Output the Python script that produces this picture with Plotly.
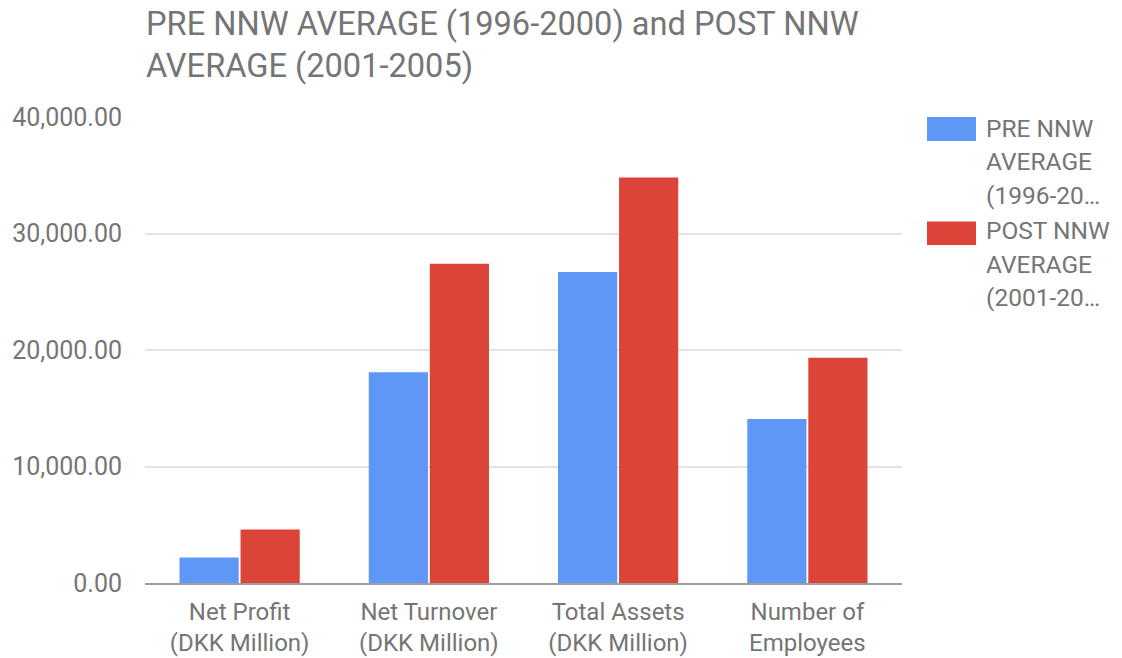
import plotly.graph_objects as go

categories = ["Net Profit<br>(DKK Million)", "Net Turnover<br>(DKK Million)",
              "Total Assets<br>(DKK Million)", "Number of<br>Employees"]
pre_values = [2180, 18100, 26700, 14070]
post_values = [4600, 27400, 34800, 19340]
series_names = ["PRE NNW AVERAGE (1996-2000)", "POST NNW AVERAGE (2001-2005)"]
legend_lines = [["PRE NNW", "AVERAGE", "(1996-20…"], ["POST NNW", "AVERAGE", "(2001-20…"]]
title_text = "PRE NNW AVERAGE (1996-2000) and POST NNW<br>AVERAGE (2001-2005)"
y_ticks = [0, 10000, 20000, 30000, 40000]

BLUE = "#5e97f6"
RED = "#db4437"
GREY = "#757575"
FONT = "Roboto"

fig = go.Figure()
fig.add_trace(go.Bar(x=categories, y=pre_values, name=series_names[0],
                     marker=dict(color=BLUE, line=dict(width=0)), showlegend=False))
fig.add_trace(go.Bar(x=categories, y=post_values, name=series_names[1],
                     marker=dict(color=RED, line=dict(width=0)), showlegend=False))

W, H = 1122, 658
L, R, T, B = 145, 220, 117, 75
pw = W - L - R
ph = H - T - B

def px_x(x):
    return (x - L) / pw

def px_y(y):
    return (H - B - y) / ph

shapes = []
annotations = []
swatches = [(117, 141), (221.5, 245)]
text_centers = [[129, 162, 195], [231, 264, 297]]
colors = [BLUE, RED]
for i in range(2):
    y0, y1 = swatches[i]
    shapes.append(dict(type="rect", xref="paper", yref="paper",
                       x0=px_x(927), x1=px_x(976), y0=px_y(y1), y1=px_y(y0),
                       fillcolor=colors[i], line=dict(width=0)))
    for line, yc in zip(legend_lines[i], text_centers[i]):
        annotations.append(dict(text=line, xref="paper", yref="paper",
                                x=px_x(984), y=px_y(yc), xanchor="left", yanchor="middle",
                                showarrow=False, font=dict(family=FONT, size=24.5, color=GREY)))

# title
annotations.append(dict(text=title_text, xref="paper", yref="paper",
                        x=px_x(144), y=px_y(3), xanchor="left", yanchor="top", align="left",
                        showarrow=False, font=dict(family=FONT, size=32.6, color=GREY)))

fig.update_layout(
    width=W, height=H,
    margin=dict(l=L, r=R, t=T, b=B, pad=0, autoexpand=False),
    paper_bgcolor="white", plot_bgcolor="white",
    barmode="group", bargap=0.355, bargroupgap=0.03,
    shapes=shapes, annotations=annotations,
    font=dict(family=FONT, color=GREY),
)
fig.update_xaxes(showline=True, linecolor="#9e9e9e", linewidth=1.5, automargin=False,
                 showgrid=False, ticks="", tickfont=dict(family=FONT, size=24, color=GREY),
                 ticklabelstandoff=6)
fig.update_yaxes(range=[0, 40000], tickvals=y_ticks, tickformat=",.2f", automargin=False,
                 showgrid=True, gridcolor="#e3e3e3", gridwidth=1.5, zeroline=False,
                 ticks="", tickfont=dict(family=FONT, size=25, color=GREY),
                 ticklabelstandoff=22, showline=False)

fig.write_html("out.html", config={"displayModeBar": False},
               post_script="document.body.style.margin='0';")
